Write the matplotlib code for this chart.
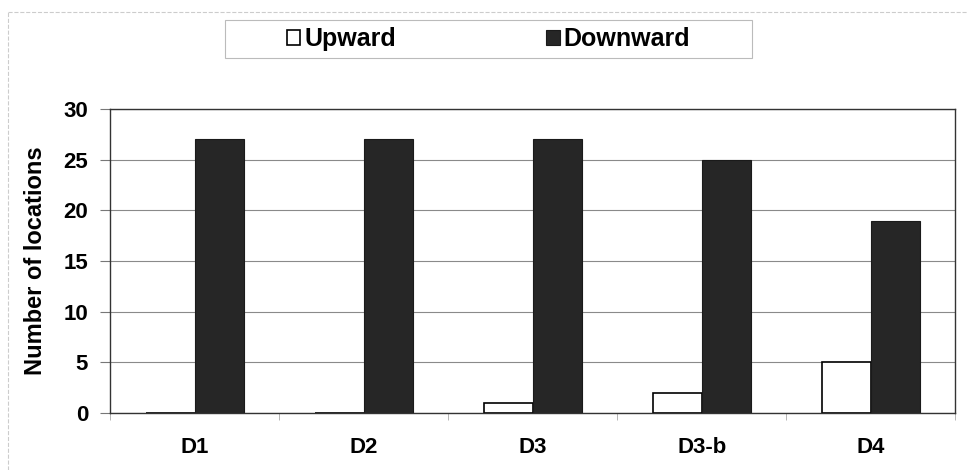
import matplotlib.pyplot as plt
from matplotlib.patches import Rectangle
from matplotlib.lines import Line2D
import numpy as np

categories = ['D1', 'D2', 'D3', 'D3-b', 'D4']
upward = [0, 0, 1, 2, 5]
downward = [27, 27, 27, 25, 19]

plt.rcParams['font.family'] = ['Liberation Sans', 'DejaVu Sans']
plt.rcParams['font.weight'] = 'bold'

fig = plt.figure(figsize=(9.67, 4.70), dpi=100)
ax = fig.add_axes([0.114, 0.121, 0.874, 0.647])

x = np.arange(len(categories))
w = 0.29
ax.bar(x - w / 2, upward, w, color='white', edgecolor='black', linewidth=1.2, label='Upward')
ax.bar(x + w / 2, downward, w, color='#262626', edgecolor='#1a1a1a', linewidth=0.8, label='Downward')

ax.set_xlim(-0.5, len(categories) - 0.5)
ax.set_ylim(0, 30)
ax.set_yticks(range(0, 31, 5))
ax.set_xticks(x)
ax.set_xticklabels(categories, fontsize=16, fontweight='bold')
ax.tick_params(axis='x', length=0, pad=17)
ax.tick_params(axis='y', labelsize=16, length=7, color='#777777', pad=9)
ax.set_xticks(np.arange(-0.5, len(categories), 1), minor=True)
ax.tick_params(axis='x', which='minor', length=5, color='#aaaaaa')
ax.yaxis.grid(True, color='#8a8a8a', linewidth=0.8)
ax.set_axisbelow(True)
for s in ax.spines.values():
    s.set_color('#333333')
    s.set_linewidth(1.0)
ax.set_ylabel('Number of locations', fontsize=17, fontweight='bold', labelpad=12)

# legend box
fig.patches.append(Rectangle((225 / 967, 1 - 58 / 470), 527 / 967, 38 / 470,
                             transform=fig.transFigure, facecolor='white',
                             edgecolor='#bbbbbb', linewidth=0.8, zorder=0))
leg = fig.legend(loc='center', bbox_to_anchor=(0.505, 0.917), ncol=2, fontsize=18,
                 frameon=False, handlelength=0.55, handleheight=0.55,
                 handletextpad=0.15, columnspacing=6.0, borderaxespad=0)
for t in leg.get_texts():
    t.set_fontweight('bold')

# faint outer border of the original figure
fig.add_artist(Line2D([8 / 967, 1], [1 - 12 / 470, 1 - 12 / 470], transform=fig.transFigure,
                      color='#cccccc', linewidth=0.8, linestyle='--'))
fig.add_artist(Line2D([8 / 967, 8 / 967], [0, 1 - 12 / 470], transform=fig.transFigure,
                      color='#cccccc', linewidth=0.8, linestyle='--'))

fig.savefig('out.png', dpi=100)
